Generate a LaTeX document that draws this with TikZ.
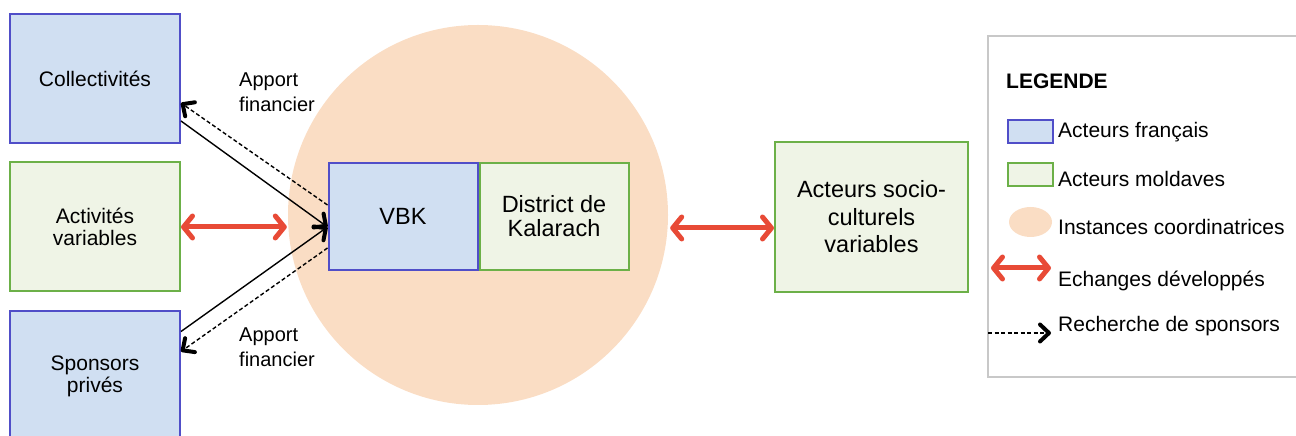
\documentclass[tikz,border=0pt]{standalone}
\usepackage{fontspec}
\setmainfont{Liberation Sans}
\usetikzlibrary{arrows.meta,positioning,shapes.geometric}
\definecolor{frfill}{RGB}{208,223,242}
\definecolor{frline}{RGB}{80,78,200}
\definecolor{mdfill}{RGB}{239,244,230}
\definecolor{mdline}{RGB}{108,176,72}
\definecolor{peach}{RGB}{250,221,196}
\definecolor{echred}{RGB}{232,74,54}
\definecolor{legline}{RGB}{200,200,200}
\begin{document}
\begin{tikzpicture}[x=1pt, y=1pt,
  fr/.style = {draw=frline, fill=frfill, line width=2pt, align=center, inner sep=0pt},
  md/.style = {draw=mdline, fill=mdfill, line width=2pt, align=center, inner sep=0pt},
  side/.style = {minimum width=170pt, minimum height=129pt, font=\fontsize{21}{22}\selectfont},
  mid/.style = {minimum width=149pt, minimum height=107pt, font=\fontsize{23.5}{24}\selectfont},
  ech/.style = {draw=echred, line width=5pt, {Straight Barb[length=9pt,width=22pt,round]}-{Straight Barb[length=9pt,width=22pt,round]}},
  fin/.style = {line width=1.4pt, -{Straight Barb[length=9pt,width=17pt,line width'=4pt,round]}},
  spo/.style = {fin, dash pattern=on 4pt off 2.5pt},
  apport/.style = {anchor=west, align=left, inner sep=0pt, font=\fontsize{20}{25}\selectfont},
  leg/.style = {anchor=base west, inner sep=0pt, font=\fontsize{21}{24}\selectfont}]
\useasboundingbox (0,0) rectangle (1296,436);

% coordinating body
\node[circle, fill=peach, minimum size=380pt, inner sep=0pt] (circ) at (478,221) {};

% actors
\node[fr, side] (coll) at (95,357.5) {Collectivités};
\node[md, side] (act) at (95,209) {Activités\\variables};
\node[fr, side] (spons) at (95,60) {Sponsors\\privés};
\node[fr, mid] (vbk) at (403,219.5) {VBK};
\node[md, mid, right=0pt of vbk] (dist) {District de\\Kalarach};
\node[md, minimum width=193pt, minimum height=150pt, font=\fontsize{23.5}{27.5}\selectfont] (socio) at (871.5,219) {Acteurs socio-\\culturels\\variables};

% funding links
\coordinate (hub) at ([yshift=-10.5pt]vbk.west);
\draw[fin] ([yshift=23pt]coll.south east) -- (hub);
\draw[fin] ([yshift=-21pt]spons.north east) -- (hub);
\draw[spo] ([yshift=11.5pt]vbk.west) -- ([yshift=-24.5pt]coll.east);
\draw[spo] ([yshift=-31.5pt]vbk.west) -- ([yshift=-41pt]spons.north east);
\node[apport] (af1) at (239,343.5) {Apport\\financier};
\node[apport] (af2) at (239,88.5) {Apport\\financier};

% exchanges
\draw[ech, shorten >=1pt] (act.east) -- (act.east -| circ.west);
\coordinate (r) at ([yshift=-11pt]socio.west);
\draw[ech, shorten <=2pt] (r -| circ.east) -- (r);

% legend
\node[draw=legline, line width=1.5pt, minimum width=320pt, minimum height=341pt, inner sep=0pt] (legbox) at (1148,229.5) {};
\node[anchor=base west, inner sep=0pt, font=\bfseries\fontsize{21}{24}\selectfont] (legt) at (1006,347) {LEGENDE};
\node[fr, minimum width=45pt, minimum height=23pt] (lfr) at (1030.5,304.5) {};
\node[leg] (tfr) at (1058,298) {Acteurs français};
\node[md, minimum width=45pt, minimum height=23pt] (lmd) at (1030.5,261.5) {};
\node[leg] (tmd) at (1058,249) {Acteurs moldaves};
\node[ellipse, fill=peach, minimum width=43pt, minimum height=30pt, inner sep=0pt] (lci) at (1030.5,214) {};
\node[leg] (tci) at (1058,201) {Instances coordinatrices};
\coordinate (le1) at (991,168);
\coordinate (le2) at (1051,168);
\draw[ech] (le1) -- (le2);
\node[leg] (tech) at (1058,149) {Echanges développés};
\coordinate (ls1) at (988,103);
\coordinate (ls2) at (1051,103);
\draw[spo] (ls1) -- (ls2);
\node[leg] (tspo) at (1058,104) {Recherche de sponsors};
\end{tikzpicture}
\end{document}
